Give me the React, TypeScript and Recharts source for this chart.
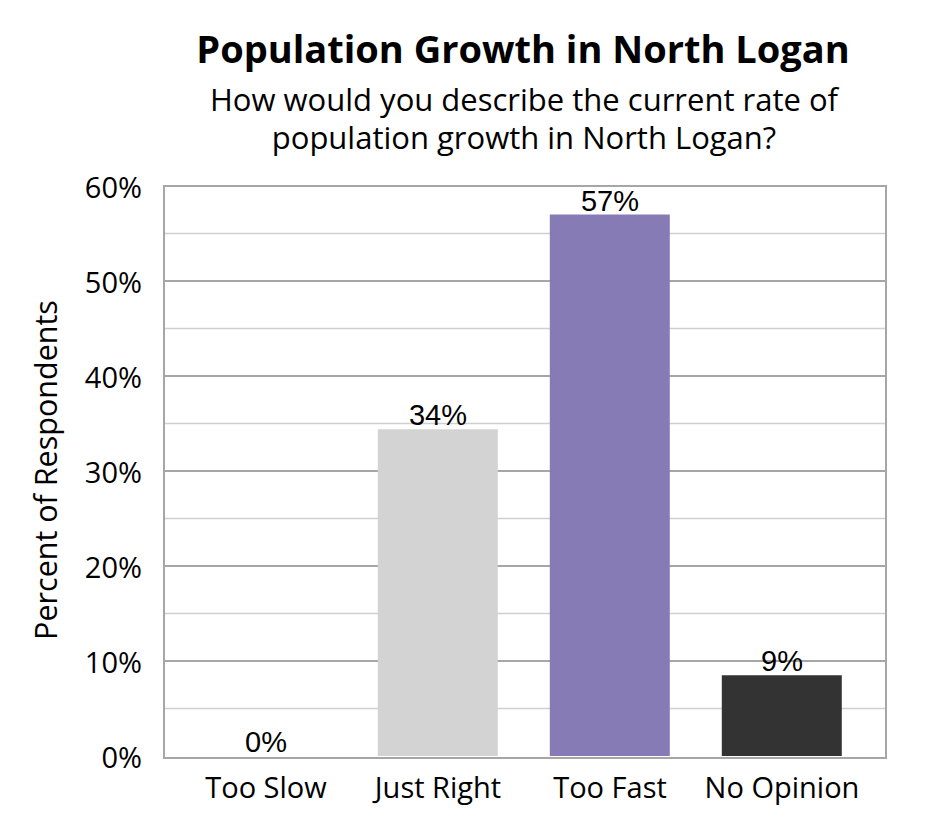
import { ComposedChart, Bar, Line, XAxis, YAxis, CartesianGrid, LabelList, Cell } from "recharts"

const categories = ["Too Slow", "Just Right", "Too Fast", "No Opinion"]
const percents = [0, 34.4, 57, 8.5]
const valueLabels = ["0%", "34%", "57%", "9%"]
const barColors = ["#d3d3d3", "#d3d3d3", "#877bb6", "#333333"]
const yTicks = [0, 10, 20, 30, 40, 50, 60]
const minorLines = [5, 15, 25, 35, 45, 55]
const majorLines = [10, 20, 30, 40, 50]

const data = categories.map((name, i) => ({
  name,
  value: percents[i],
  label: valueLabels[i],
}))

const uiFont = "'Open Sans', sans-serif"

export default function App() {
  return (
    <div style={{ position: "absolute", left: 0, top: 0, width: 945, height: 840, background: "#fff" }}>
      <ComposedChart
        width={945}
        height={840}
        data={data}
        margin={{ top: 186, right: 60, bottom: 34, left: 74 }}
        barCategoryGap="15%"
      >
        <CartesianGrid
          horizontal
          vertical={false}
          horizontalValues={minorLines}
          stroke="#d0d0d0"
          strokeWidth={1.5}
        />
        <CartesianGrid
          horizontal
          vertical={false}
          horizontalValues={majorLines}
          stroke="#a6a6a6"
          strokeWidth={2}
        />
        <XAxis
          dataKey="name"
          axisLine={false}
          tickLine={false}
          height={50}
          padding={{ left: 16, right: 17 }}
          tick={{ fill: "#000", fontSize: 29, fontFamily: uiFont, dy: 13 }}
        />
        <YAxis
          domain={[0, 60]}
          ticks={yTicks}
          width={90}
          axisLine={false}
          tickLine={false}
          tickFormatter={(v) => `${v}%`}
          tick={{ fill: "#000", fontSize: 29, fontFamily: uiFont, dx: -14, dy: 2 }}
        />
        <Bar dataKey="value" isAnimationActive={false}>
          {data.map((d, i) => (
            <Cell key={d.name} fill={barColors[i]} />
          ))}
        </Bar>
        {/* invisible line carries the value labels so the 0% bar still gets one */}
        <Line
          dataKey="value"
          stroke="none"
          dot={false}
          activeDot={false}
          isAnimationActive={false}
        >
          <LabelList
            dataKey="label"
            position="top"
            offset={4}
            style={{ fill: "#000", fontSize: 29, fontFamily: "'Liberation Sans', Arial, sans-serif" }}
          />
        </Line>
      </ComposedChart>
      <div
        style={{
          position: "absolute",
          left: 163,
          top: 185,
          width: 720,
          height: 570,
          border: "2px solid #a6a6a6",
          pointerEvents: "none",
        }}
      />
      <svg width={945} height={840} style={{ position: "absolute", left: 0, top: 0, pointerEvents: "none" }}>
        <text x={523} y={63} textAnchor="middle" fontFamily={uiFont} fontWeight={700} fontSize={38} fill="#000">
          Population Growth in North Logan
        </text>
        <text x={524} y={111} textAnchor="middle" fontFamily={uiFont} fontSize={31} fill="#000">
          How would you describe the current rate of
        </text>
        <text x={524} y={149} textAnchor="middle" fontFamily={uiFont} fontSize={31} fill="#000">
          population growth in North Logan?
        </text>
        <text
          x={0}
          y={0}
          transform="translate(57, 470) rotate(-90)"
          textAnchor="middle"
          fontFamily={uiFont}
          fontSize={30.5}
          fill="#000"
        >
          Percent of Respondents
        </text>
      </svg>
    </div>
  )
}
